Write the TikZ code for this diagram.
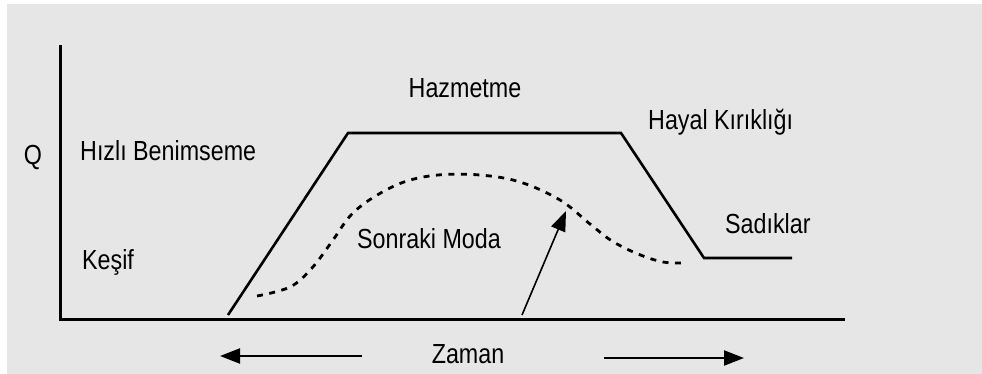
\documentclass[tikz,border=0pt]{standalone}
\usepackage{fontspec}
\usepackage{graphicx}
\setmainfont{Liberation Sans}
\usetikzlibrary{arrows.meta}
\definecolor{bggray}{HTML}{E6E6E6}
\newcommand{\tallt}[1]{\scalebox{0.97}[1.15]{#1}}
\begin{document}
\begin{tikzpicture}[x=1pt,y=-1pt,
  lbl/.style={inner sep=0pt,text height=19.5pt,text depth=0pt,font=\fontsize{24}{28}\selectfont},
  axisline/.style={line width=3pt},
  trend/.style={line width=2.6pt,line join=miter},
  hype/.style={line width=2.8pt,dash pattern=on 6pt off 6.5pt},
  bigtip/.style={-{Triangle[length=20pt,width=15pt]}},
]
\useasboundingbox (0,0) rectangle (982,374);
\fill[white] (0,0) rectangle (982,374);
\fill[bggray] (7,4) rectangle (982,374);

% axes
\coordinate (ytop) at (60,45);
\coordinate (orig) at (60,319);
\coordinate (xend) at (845,319);
\draw[axisline] (ytop) -- (orig) -- (xend);

% labels
\node[lbl] (q) at (33,155) {\tallt{Q}};
\node[lbl,anchor=west] (hizli) at (80,151) {\tallt{Hızlı Benimseme}};
\node[lbl,anchor=west] (kesif) at (82,260) {\tallt{Keşif}};
\node[lbl] (hazm) at (465,88) {\tallt{Hazmetme}};
\node[lbl,anchor=west] (hayal) at (648,120) {\tallt{Hayal Kırıklığı}};
\node[lbl,anchor=west] (sadik) at (725,224) {\tallt{Sadıklar}};
\node[lbl,anchor=west] (sonraki) at (357,239) {\tallt{Sonraki Moda}};
\node[lbl] (zaman) at (468,354) {\tallt{Zaman}};

% main trend
\coordinate (t0) at (228,315);
\coordinate (t1) at (348,133);
\coordinate (t2) at (621,133);
\coordinate (t3) at (704,258);
\coordinate (t4) at (792,258);
\draw[trend] (t0) -- (t1) -- (t2) -- (t3) -- (t4);

% next fashion dashed curve
\draw[hype] plot[smooth,tension=0.6] coordinates {
  (257,296) (290,287) (312,268) (333,240) (351,215) (374,197) (404,182)
  (438,175) (480,175) (520,182) (560,200) (590,224) (612,241) (638,254)
  (663,262) (685,263)};

% arrow
\coordinate (a0) at (522,315);
\coordinate (a1) at (566,211);
\draw[line width=1.6pt,bigtip] (a0) -- (a1);

% time arrows
\coordinate (l0) at (362,356);
\coordinate (l1) at (220,356);
\coordinate (r0) at (604,358);
\coordinate (r1) at (744,358);
\draw[line width=2.2pt,bigtip] (l0) -- (l1);
\draw[line width=2.2pt,bigtip] (r0) -- (r1);
\end{tikzpicture}
\end{document}
